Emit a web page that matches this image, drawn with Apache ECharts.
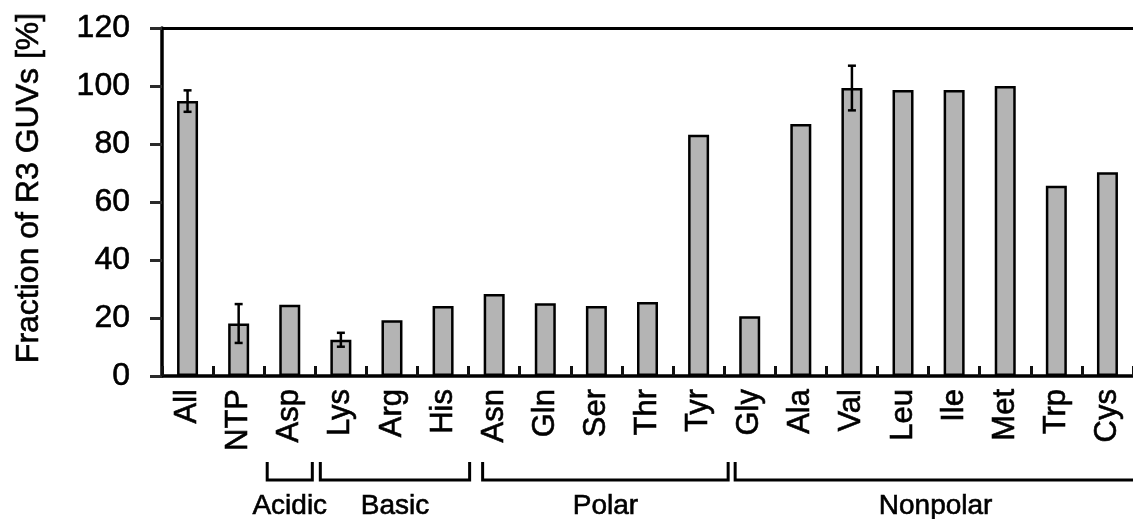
<!DOCTYPE html>
<html>
<head>
<meta charset="utf-8">
<script src="https://cdn.jsdelivr.net/npm/echarts@6/dist/echarts.min.js"></script>
<style>
  html, body { margin: 0; padding: 0; background: #fff; }
  #chart { width: 1133px; height: 519px; }
</style>
</head>
<body>
<div id="chart"></div>
<script>
// ---- data ----
const categories = ['All','NTP','Asp','Lys','Arg','His','Asn','Gln','Ser','Thr','Tyr','Gly','Ala','Val','Leu','Ile','Met','Trp','Cys'];
const values     = [94.8, 18.1, 24.6, 12.5, 19.2, 24.1, 28.3, 25.1, 24.1, 25.5, 83.2, 20.6, 86.9, 99.3, 98.6, 98.6, 100, 65.6, 70.3];
const errors     = [3.7, 6.7, null, 2.4, null, null, null, null, null, null, null, null, null, 7.7, null, null, null, null, null];
const yTicks     = [0, 20, 40, 60, 80, 100, 120];
const yTitle     = 'Fraction of R3 GUVs [%]';
const groupNames = ['Acidic', 'Basic', 'Polar', 'Nonpolar'];
const groupFirst = ['Asp', 'Lys', 'Asn', 'Gly'];
const groupLast  = ['Asp', 'His', 'Tyr', 'Cys'];

// ---- layout / style (not data) ----
const FONT = 'Liberation Sans, Arial, sans-serif';
const TB = { textBorderColor: '#000', textBorderWidth: 0.6 };
const bracketInset = [[3, 3], [5, -1], [14, -4], [11, -3]]; // px inset of bracket ends from band edges

const chart = echarts.init(document.getElementById('chart'), null, { renderer: 'canvas' });

const errData = [];
errors.forEach((e, i) => { if (e != null) errData.push([i, values[i] - e, values[i] + e]); });

chart.setOption({
  animation: false,
  backgroundColor: '#ffffff',
  grid: { left: 162, top: 28, width: 981, height: 348, containLabel: false },
  xAxis: [{
    type: 'category',
    data: categories,
    position: 'bottom',
    axisLine: { show: true, lineStyle: { color: '#000', width: 3.5 } },
    axisTick: { show: true, inside: true, length: 10, lineStyle: { color: '#111', width: 3 } },
    axisLabel: Object.assign({ interval: 0, rotate: 90, margin: 13, color: '#000', fontSize: 31, fontFamily: FONT }, TB),
    splitLine: { show: false }
  }, {
    type: 'category',
    data: categories,
    position: 'top',
    axisLine: { show: true, lineStyle: { color: '#000', width: 3 } },
    axisTick: { show: false },
    axisLabel: { show: false },
    splitLine: { show: false }
  }],
  yAxis: {
    type: 'value',
    min: yTicks[0],
    max: yTicks[yTicks.length - 1],
    interval: yTicks[1] - yTicks[0],
    axisLine: { show: true, lineStyle: { color: '#000', width: 3.5 } },
    axisTick: { show: true, inside: false, length: 12, lineStyle: { color: '#2a2a2a', width: 3 } },
    axisLabel: Object.assign({ margin: 32, color: '#000', fontSize: 32, fontFamily: FONT }, TB),
    splitLine: { show: false }
  },
  series: [{
    type: 'bar',
    data: values,
    barWidth: 21,
    itemStyle: { color: '#b4b4b4', borderColor: '#000', borderWidth: 2.5 }
  }, {
    type: 'custom',
    data: errData,
    z: 10,
    renderItem: function (params, api) {
      const x = api.value(0);
      const lo = api.coord([x, api.value(1)]);
      const hi = api.coord([x, api.value(2)]);
      const cap = 4;
      const st = { stroke: '#000', lineWidth: 2.5 };
      return {
        type: 'group',
        children: [
          { type: 'line', shape: { x1: lo[0], y1: lo[1], x2: hi[0], y2: hi[1] }, style: st },
          { type: 'line', shape: { x1: lo[0] - cap, y1: lo[1], x2: lo[0] + cap, y2: lo[1] }, style: st },
          { type: 'line', shape: { x1: hi[0] - cap, y1: hi[1], x2: hi[0] + cap, y2: hi[1] }, style: st }
        ]
      };
    }
  }]
});

// ---- group brackets & title, positioned via the category axis ----
const p0 = chart.convertToPixel({ xAxisIndex: 0 }, categories[0]);
const p1 = chart.convertToPixel({ xAxisIndex: 0 }, categories[1]);
const bw = p1 - p0;
const axisY = chart.convertToPixel({ yAxisIndex: 0 }, 0);
const brTop = axisY + 86, brBot = axisY + 104, labY = axisY + 130;

const graphics = [];
groupNames.forEach((name, g) => {
  const i0 = categories.indexOf(groupFirst[g]);
  const i1 = categories.indexOf(groupLast[g]);
  const xL = p0 + (i0 - 0.5) * bw + bracketInset[g][0];
  const xR = p0 + (i1 + 0.5) * bw - bracketInset[g][1];
  graphics.push({
    type: 'polyline',
    shape: { points: [[xL, brTop], [xL, brBot], [xR, brBot], [xR, brTop]] },
    style: { stroke: '#000', lineWidth: 3, fill: null }
  });
  graphics.push({
    type: 'text',
    x: (xL + xR) / 2,
    y: labY,
    style: { text: name, fill: '#000', fontSize: 28, fontFamily: FONT, textAlign: 'center', textVerticalAlign: 'middle', align: 'center', verticalAlign: 'middle', stroke: '#000', lineWidth: 0.6 }
  });
});
graphics.push({
  type: 'text',
  x: 29,
  y: 188,
  rotation: Math.PI / 2,
  style: { text: yTitle, fill: '#000', fontSize: 32, fontFamily: FONT, textAlign: 'center', textVerticalAlign: 'middle', align: 'center', verticalAlign: 'middle', stroke: '#000', lineWidth: 0.6 }
});
chart.setOption({ graphic: graphics });
</script>
</body>
</html>
